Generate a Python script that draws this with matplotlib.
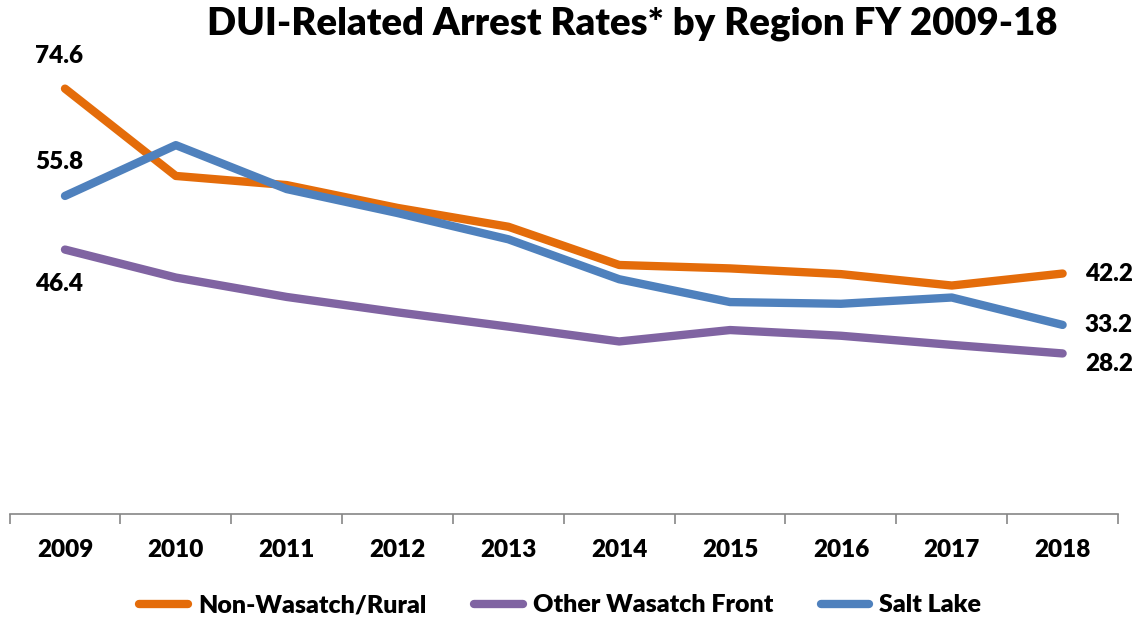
import numpy as np
import matplotlib
matplotlib.use('Agg')
import matplotlib.pyplot as plt
from matplotlib.ticker import FixedLocator

plt.rcParams['font.family'] = ['Lato', 'DejaVu Sans']
plt.rcParams['font.weight'] = 'heavy'

years = ['2009', '2010', '2011', '2012', '2013', '2014', '2015', '2016', '2017', '2018']
rural = [74.6, 59.3, 57.7, 53.7, 50.4, 43.7, 43.1, 42.1, 40.1, 42.2]
other_wf = [46.4, 41.5, 38.1, 35.4, 32.9, 30.3, 32.3, 31.3, 29.7, 28.2]
salt_lake = [55.8, 64.7, 57.0, 52.8, 48.2, 41.2, 37.2, 36.9, 38.0, 33.2]

series = [('Non-Wasatch/Rural', rural, '#E46C0A'),
          ('Other Wasatch Front', other_wf, '#8064A2'),
          ('Salt Lake', salt_lake, '#4F81BD')]

fig = plt.figure(figsize=(11.39, 6.19), dpi=100)
ax = fig.add_axes([0.0084, 0.169, 0.9732, 0.7376])

x = np.arange(len(years))
for name, vals, col in series:
    ax.plot(x, vals, color=col, lw=6, solid_capstyle='round', solid_joinstyle='round', label=name)

# labels at start and end of each line
start_off = {'Non-Wasatch/Rural': 5.8, 'Other Wasatch Front': -6.1, 'Salt Lake': 6.0}
end_off = {'Non-Wasatch/Rural': 0.0, 'Other Wasatch Front': -1.8, 'Salt Lake': 0.0}
for name, vals, col in series:
    ax.text(x[0] - 0.05, vals[0] + start_off[name], f'{vals[0]:.1f}', ha='center', va='center',
            fontsize=17.5)
    ax.text(x[-1] + 0.2, vals[-1] + end_off[name], f'{vals[-1]:.1f}', ha='left', va='center',
            fontsize=17.5)

ax.set_xlim(-0.5, 9.5)
ax.set_ylim(0, 80)
ax.set_xticks(x)
ax.set_xticklabels(years, fontsize=17.5)
ax.xaxis.set_minor_locator(FixedLocator(np.arange(-0.5, 10, 1)))
ax.tick_params(axis='x', which='major', length=0, pad=18)
ax.tick_params(axis='x', which='minor', length=7, width=1.2, color='#868686', direction='out')
ax.set_yticks([])
for s in ['top', 'right', 'left']:
    ax.spines[s].set_visible(False)
ax.spines['bottom'].set_color('#868686')
ax.spines['bottom'].set_linewidth(1.2)

fig.text(0.555, 0.962, 'DUI-Related Arrest Rates* by Region FY 2009-18', ha='center', va='center',
         fontsize=27.5)

leg = fig.legend(loc='center', bbox_to_anchor=(0.492, 0.022), ncol=3, frameon=False,
                 fontsize=18, handlelength=1.95, handletextpad=0.4, columnspacing=1.9)
for h in leg.get_lines():
    h.set_linewidth(6)

fig.savefig('out.png', dpi=100)
